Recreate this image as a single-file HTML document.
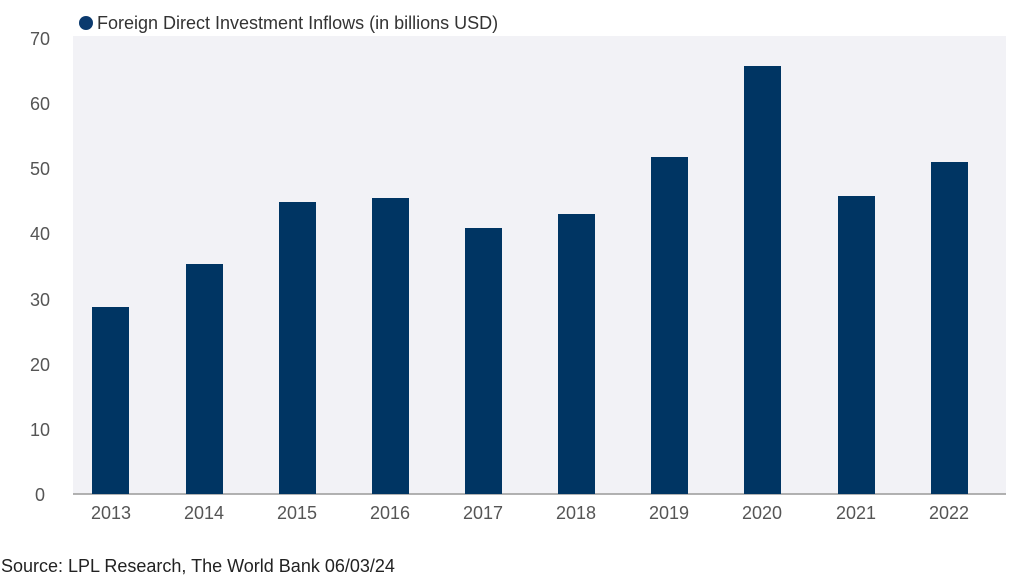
<!DOCTYPE html>
<html><head><style>
body{margin:0;background:#fff;width:1017px;height:581px;overflow:hidden;font-family:"Liberation Sans",sans-serif}
</style></head><body>
<svg width="1017" height="581" xmlns="http://www.w3.org/2000/svg" font-family="Liberation Sans, sans-serif">
<rect x="73" y="36" width="933" height="458" fill="#f2f2f6"/>
<line x1="73" y1="494" x2="1006" y2="494" stroke="#999" stroke-width="1.5"/>
<circle cx="86" cy="23" r="7" fill="#0b3a6e"/>
<text x="97" y="29" font-size="18" fill="#333">Foreign Direct Investment Inflows (in billions USD)</text>
<g font-size="18" fill="#555" text-anchor="middle">
<text x="40" y="45">70</text><text x="40" y="110">60</text><text x="40" y="175">50</text>
<text x="40" y="240">40</text><text x="40" y="306">30</text><text x="40" y="371">20</text>
<text x="40" y="436">10</text><text x="40" y="501">0</text>
</g>
<g fill="#003563">
<rect x="92" y="307" width="37" height="187"/>
<rect x="186" y="264" width="37" height="230"/>
<rect x="279" y="202" width="37" height="292"/>
<rect x="372" y="198" width="37" height="296"/>
<rect x="465" y="228" width="37" height="266"/>
<rect x="558" y="214" width="37" height="280"/>
<rect x="651" y="157" width="37" height="337"/>
<rect x="744" y="66" width="37" height="428"/>
<rect x="838" y="196" width="37" height="298"/>
<rect x="931" y="162" width="37" height="332"/>
</g>
<g font-size="18" fill="#555" text-anchor="middle">
<text x="111" y="519">2013</text><text x="204" y="519">2014</text><text x="297" y="519">2015</text>
<text x="390" y="519">2016</text><text x="483" y="519">2017</text><text x="576" y="519">2018</text>
<text x="669" y="519">2019</text><text x="762" y="519">2020</text><text x="856" y="519">2021</text>
<text x="949" y="519">2022</text>
</g>
<text x="1" y="572" font-size="18" fill="#222">Source: LPL Research, The World Bank 06/03/24</text>
</svg>
</body></html>
